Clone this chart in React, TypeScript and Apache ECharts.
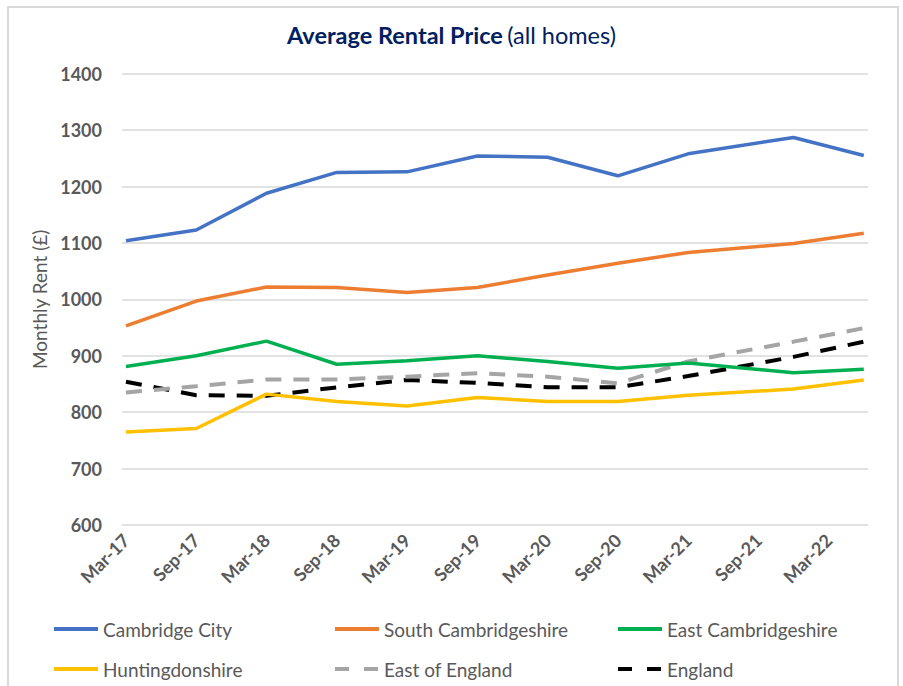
import React, { useEffect, useRef } from "react";
import * as echarts from "echarts";

// Observation dates (month-year)
const dates = ["Mar-17", "Sep-17", "Mar-18", "Sep-18", "Mar-19", "Sep-19", "Mar-20", "Sep-20", "Mar-21", "Dec-21", "Jun-22"];
// Axis tick labels
const tickLabels = ["Mar-17", "Sep-17", "Mar-18", "Sep-18", "Mar-19", "Sep-19", "Mar-20", "Sep-20", "Mar-21", "Sep-21", "Mar-22"];
const yTicks = [600, 700, 800, 900, 1000, 1100, 1200, 1300, 1400];

const cambridgeCity = [1104, 1123, 1188, 1225, 1226, 1254, 1252, 1219, 1258, 1287, 1255];
const southCambridgeshire = [953, 997, 1022, 1021, 1012, 1021, 1043, 1064, 1083, 1099, 1117];
const eastCambridgeshire = [881, 900, 926, 885, 891, 900, 890, 878, 887, 870, 876];
const huntingdonshire = [765, 771, 832, 819, 811, 826, 819, 819, 830, 841, 857];
const eastOfEngland = [835, 846, 858, 858, 863, 869, 863, 851, 890, 925, 949];
const england = [854, 830, 829, 844, 857, 852, 844, 844, 864, 898, 925];

const seriesNames = ["Cambridge City", "South Cambridgeshire", "East Cambridgeshire", "Huntingdonshire", "East of England", "England"];
const seriesValues = [cambridgeCity, southCambridgeshire, eastCambridgeshire, huntingdonshire, eastOfEngland, england];
const seriesColors = ["#4472C4", "#ED7D31", "#00B050", "#FFC000", "#A5A5A5", "#000000"];
const seriesDashed = [false, false, false, false, true, true];

const MONTHS = ["Jan", "Feb", "Mar", "Apr", "May", "Jun", "Jul", "Aug", "Sep", "Oct", "Nov", "Dec"];
function monthOffset(label: string): number {
  const [m, y] = label.split("-");
  return (2000 + Number(y) - 2017) * 12 + MONTHS.indexOf(m) - 2;
}

const FONT = "Lato, 'Noto Sans', sans-serif";
const GREY = "#595959";

export default function App() {
  const ref = useRef<HTMLDivElement>(null);
  useEffect(() => {
    if (!ref.current) return;
    const chart = echarts.init(ref.current, undefined, { renderer: "svg" });
    const tickValues = tickLabels.map(monthOffset);
    const colX = [52, 333, 616];
    const rowY = [629, 669];
    chart.setOption({
      animation: false,
      backgroundColor: "#ffffff",
      textStyle: { fontFamily: FONT },
      title: {
        text: "{b|Average Rental Price} {r|(all homes)}",
        left: "center",
        top: 18,
        textStyle: {
          rich: {
            b: { fontFamily: FONT, fontSize: 23.5, fontWeight: "bold", color: "#002060" },
            r: { fontFamily: FONT, fontSize: 23.5, fontWeight: "normal", color: "#002060" },
          },
        },
      },
      graphic: [
        {
          type: "rect",
          z: -10,
          shape: { x: 8, y: 7, width: 890, height: 700 },
          style: { fill: "none", stroke: "#D9D9D9", lineWidth: 2 },
          silent: true,
        },
      ],
      legend: seriesNames.map((name, i) => ({
        data: [name],
        left: colX[i % 3],
        top: rowY[Math.floor(i / 3)] - 11,
        padding: 0,
        itemWidth: 44,
        itemHeight: 22,
        itemGap: 0,
        selectedMode: false,
        itemStyle: { opacity: 0 },
        lineStyle: {
          color: seriesColors[i],
          width: 4,
          type: seriesDashed[i] ? [14, 15] : "solid",
          cap: "butt",
        },
        textStyle: { fontFamily: FONT, fontSize: 19, color: GREY, lineHeight: 22 },
      })),
      grid: { left: 122, right: 35, top: 73.7, bottom: 161, containLabel: false },
      xAxis: {
        type: "value",
        min: -0.34,
        max: 63.36,
        axisLine: { show: false },
        axisTick: { show: false },
        splitLine: { show: false },
        axisLabel: {
          customValues: tickValues,
          rotate: 45,
          margin: 12,
          fontFamily: FONT,
          fontSize: 18,
          fontWeight: "bold",
          color: GREY,
          formatter: (v: number) => {
            const idx = tickValues.indexOf(Math.round(v));
            return idx >= 0 ? tickLabels[idx] : "";
          },
        },
      },
      yAxis: {
        type: "value",
        min: yTicks[0],
        max: yTicks[yTicks.length - 1],
        interval: 100,
        name: "Monthly Rent (£)",
        nameLocation: "middle",
        nameGap: 60,
        nameRotate: 90,
        nameTextStyle: { fontFamily: FONT, fontSize: 19, color: GREY },
        axisLine: { show: false },
        axisTick: { show: false },
        splitLine: { lineStyle: { color: "#D9D9D9", width: 1.5 } },
        axisLabel: {
          margin: 20,
          fontFamily: FONT,
          fontSize: 18,
          fontWeight: "bold",
          color: GREY,
          formatter: (v: number) => String(v),
        },
      },
      series: seriesNames.map((name, i) => ({
        type: "line",
        name,
        symbol: "none",
        showSymbol: false,
        data: dates.map((d, j) => [monthOffset(d), seriesValues[i][j]]),
        itemStyle: { color: seriesColors[i] },
        lineStyle: {
          color: seriesColors[i],
          width: seriesDashed[i] ? 4 : 3.5,
          type: seriesDashed[i] ? [16, 12] : "solid",
          cap: "butt",
        },
        z: 10 - i,
      })),
    });
    return () => chart.dispose();
  }, []);
  return (
    <div
      ref={ref}
      style={{ position: "fixed", left: 0, top: 0, width: 903, height: 686, background: "#fff" }}
    />
  );
}
